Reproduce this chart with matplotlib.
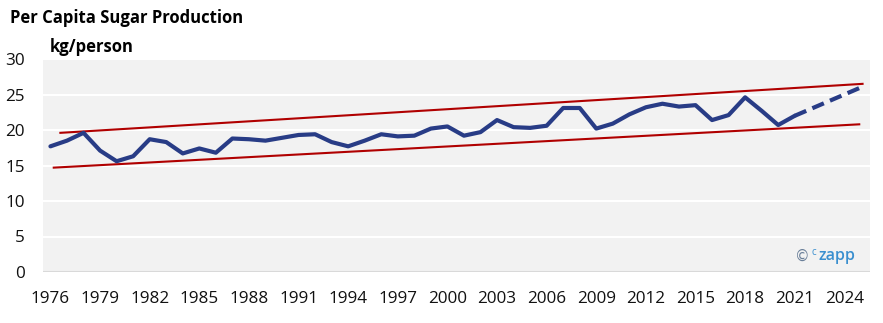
import numpy as np
import matplotlib.pyplot as plt

# per capita sugar production, kg/person
years = list(range(1976, 2026))
values = [17.7, 18.5, 19.6, 17.1, 15.6, 16.3, 18.7, 18.3, 16.7, 17.4,
          16.8, 18.8, 18.7, 18.5, 18.9, 19.3, 19.4, 18.3, 17.7, 18.5,
          19.4, 19.1, 19.2, 20.2, 20.5, 19.2, 19.7, 21.4, 20.4, 20.3,
          20.6, 23.1, 23.1, 20.2, 20.9, 22.2, 23.2, 23.7, 23.3, 23.5,
          21.4, 22.1, 24.6, 22.7, 20.7, 22.0, 23.0, 24.0, 25.0, 26.0]
last_actual = 2021

# trend channel
upper_x = [1976.6, 2025.1]
upper_y = [19.6, 26.5]
lower_x = [1976.2, 2024.9]
lower_y = [14.7, 20.8]

xticks = list(range(1976, 2025, 3))
yticks = [0, 5, 10, 15, 20, 25, 30]

plt.rcParams['font.family'] = ['Open Sans', 'DejaVu Sans']

fig = plt.figure(figsize=(8.83, 3.23), dpi=100)
ax = fig.add_axes([43 / 883, 51 / 323, 827 / 883, 213 / 323])
ax.set_facecolor('#F2F2F2')

yrs = np.array(years)
vals = np.array(values)
solid = yrs <= last_actual
dash = yrs >= last_actual

navy = '#283C86'
ax.plot(yrs[solid], vals[solid], color=navy, lw=3.0, solid_capstyle='round', zorder=3)
ax.plot(yrs[dash], vals[dash], color=navy, lw=3.0, dashes=(3, 1.6), zorder=3)

red = '#B00000'
ax.plot(upper_x, upper_y, color=red, lw=1.5, zorder=2)
ax.plot(lower_x, lower_y, color=red, lw=1.5, zorder=2)

ax.set_xlim(1975.55, 2025.55)
ax.set_ylim(0, 30)
ax.set_xticks(xticks)
ax.set_yticks(yticks)
ax.tick_params(length=0, labelsize=12.3, colors='#111111')
ax.tick_params(axis='y', pad=13)
ax.tick_params(axis='x', pad=14)
ax.grid(axis='y', color='white', lw=1.5)
ax.axhline(0, color='#D9D9D9', lw=1.5, zorder=1)
ax.set_axisbelow(True)
for s in ax.spines.values():
    s.set_visible(False)

fig.text(10 / 883, 1 - 18 / 323, 'Per Capita Sugar Production', fontsize=12,
         fontweight='bold', va='center', ha='left')
fig.text(50 / 883, 1 - 47 / 323, 'kg/person', fontsize=12,
         fontweight='bold', va='center', ha='left')

# watermark
ax.text(0.909, 0.075, '©', transform=ax.transAxes, fontsize=10.5,
        color='#6A7F99', va='center', ha='left', family=['DejaVu Sans'])
ax.text(0.929, 0.09, 'c', transform=ax.transAxes, fontsize=7,
        color='#3A8FCF', va='center', ha='left')
ax.text(0.938, 0.075, 'zapp', transform=ax.transAxes, fontsize=11.5,
        color='#3A8FCF', va='center', ha='left', fontweight='semibold')

fig.savefig('out.png', dpi=100)
